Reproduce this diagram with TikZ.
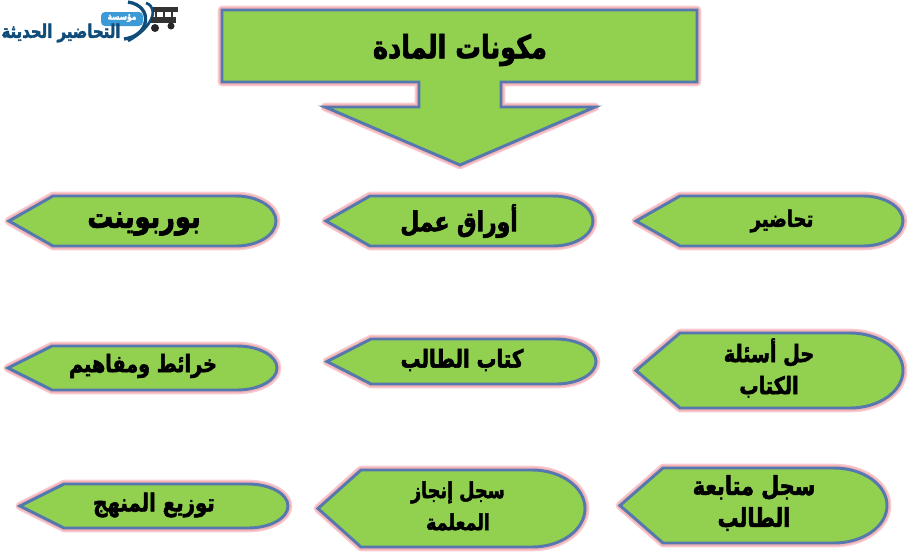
\documentclass[tikz,border=0pt]{standalone}
\usepackage{fontspec}
\usepackage{xcolor}
\newfontfamily\arabicfont[Script=Arabic,FakeBold=2.2,FakeStretch=0.8]{DejaVu Sans Bold}
\TeXXeTstate=1
\definecolor{boxgreen}{HTML}{92D050}
\definecolor{boxblue}{HTML}{5578AE}
\definecolor{boxpink}{HTML}{F4B4BA}
\definecolor{logoblue}{HTML}{0F4C7A}
\definecolor{logosky}{HTML}{3C9AD6}
\newcommand{\artext}[1]{\beginR #1\endR}
% tip x, x of the flat start, arc start x, right x, top, bottom
\newcommand{\dispbox}[6]{%
	\pgfmathsetmacro{\ymid}{(#5+#6)/2}
	\pgfmathsetmacro{\yrad}{(#6-#5)/2*0.75}
	\pgfmathsetmacro{\xrad}{(#4-#3)*0.75}
	\draw[greenshape] (#1,\ymid) -- (#2,#5) -- (#3,#5)
		arc[start angle=90,end angle=-90,x radius=\xrad pt,y radius=\yrad pt]
		-- (#2,#6) -- cycle;
}
\tikzset{
	greenshape/.style={preaction={draw=boxpink!70,line width=6.5pt,line join=round},
		preaction={draw=boxpink,line width=4.5pt,line join=round},
		fill=boxgreen,draw=boxblue,line width=2.2pt,line join=miter},
	boxlabel/.style={font=\arabicfont\fontsize{#1}{24}\selectfont,text=black,inner sep=0pt,align=center},
}
\begin{document}
\begin{tikzpicture}[x=.75pt,y=-.75pt]
	\useasboundingbox (0,0) rectangle (912,557);
	% title arrow
	\draw[greenshape] (222,10) -- (697,10) -- (697,82) -- (501,82) -- (501,107) -- (595,107)
		-- (460,165) -- (325,107) -- (419,107) -- (419,82) -- (222,82) -- cycle;
	\node[boxlabel=24] (title) at (460,50) {\artext{مكونات المادة}};
	% first row
	\dispbox{636}{680}{863}{903}{196}{246}
	\dispbox{326}{370}{553}{593}{196}{246}
	\dispbox{9}{53}{236}{276}{196}{246}
	\node[boxlabel=17] (lecture) at (782,221) {\artext{تحاضير}};
	\node[boxlabel=20.5] (sheets) at (459,221) {\artext{أوراق عمل}};
	\node[boxlabel=24] (slides) at (144,224) {\artext{بوربوينت}};
	% second row
	\dispbox{636}{680}{850}{903}{333}{408}
	\dispbox{327}{371}{556}{596}{339}{384}
	\dispbox{8}{52}{237}{277}{346}{390}
	\node[boxlabel=18] (answers) at (769,368) {\artext{حل أسئلة}\\\artext{الكتاب}};
	\node[boxlabel=18.5] (book) at (462,360) {\artext{كتاب الطالب}};
	\node[boxlabel=18] (maps) at (143,366) {\artext{خرائط ومفاهيم}};
	% third row
	\dispbox{620}{663}{834}{887}{468}{543}
	\dispbox{318}{361}{532}{585}{470}{547}
	\dispbox{20}{64}{248}{288}{484}{528}
	\node[boxlabel=19.5] (followup) at (754,503) {\artext{سجل متابعة}\\\artext{الطالب}};
	\node[boxlabel=16.5] (record) at (458,506) {\artext{سجل إنجاز}\\\artext{المعلمة}};
	\node[boxlabel=18.5] (plan) at (154,505) {\artext{توزيع المنهج}};
	% logo
	\draw[logoblue,line width=2.5pt] (124,39) .. controls (150,36) and (154,6) .. (128,2);
	\draw[logoblue,line width=2pt] (146,3) .. controls (160,8) and (152,28) .. (128,41);
	\fill[logosky,rounded corners=3pt] (101,12) rectangle (143,26);
	\node[font=\arabicfont\fontsize{7}{8}\selectfont,text=white,inner sep=0pt] (logotop) at (122,18) {\artext{مؤسسة}};
	\node[font=\arabicfont\fontsize{14}{15}\selectfont,text=logoblue,inner sep=0pt] (logoname) at (61,33) {\artext{التحاضير الحديثة}};
	\fill[black!80] (153,7) rectangle (178,12);
	\fill[black!80] (151,17) rectangle (176,23);
	\draw[black!80,line width=1pt] (156,12) -- (156,17) (164,12) -- (164,17) (172,12) -- (172,17);
	\fill[black!85] (155,28) circle (4);
	\fill[black!85] (171,26) circle (3.5);
\end{tikzpicture}
\end{document}
